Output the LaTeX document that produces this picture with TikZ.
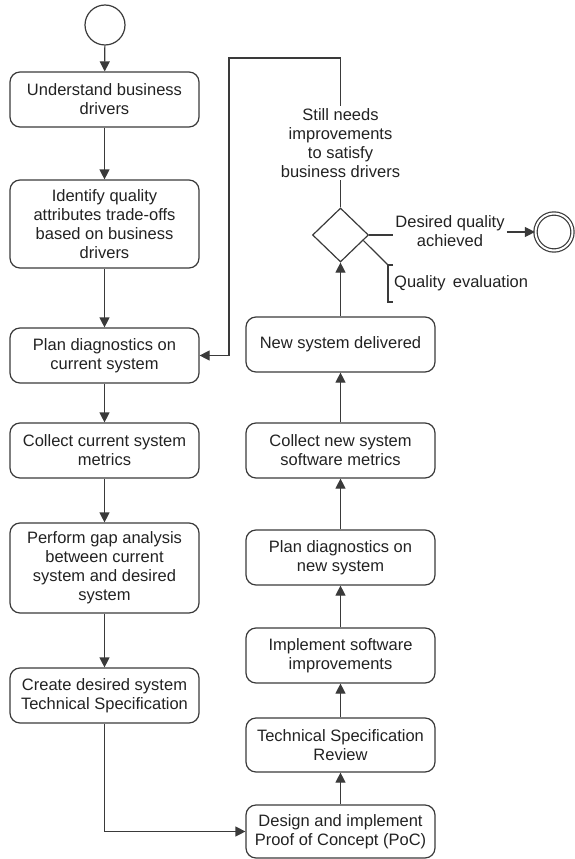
\documentclass[tikz,border=0pt]{standalone}
\usepackage{fontspec}
\setmainfont{Liberation Sans}
\usetikzlibrary{shapes.geometric,arrows.meta,calc}
\definecolor{ln}{HTML}{3A3A3A}
\definecolor{tx}{HTML}{222222}
\tikzset{
  stepbox/.style={draw=ln, line width=1.2pt, rounded corners=10pt, minimum width=189pt,
    inner sep=2pt, align=center, text=tx, font=\fontsize{16.5}{19}\selectfont},
  conn/.style={draw=ln, line width=1.2pt},
  arr/.style={conn, -{Triangle[length=10pt,width=10pt]}},
  lbl/.style={align=center, text=tx, inner sep=2pt, font=\fontsize{16.5}{19}\selectfont},
}
\begin{document}
\begin{tikzpicture}[x=1pt,y=-1pt]
\useasboundingbox (0,0) rectangle (574,859);
% start
\node[circle, draw=ln, line width=1.2pt, minimum size=40pt, inner sep=0] (start) at (105,25) {};
% left column
\node[stepbox, minimum height=55pt] (und) at (104.5,99.5) {Understand business\\drivers};
\node[stepbox, minimum height=88pt] (ide) at (104.5,224) {Identify quality\\attributes trade-offs\\based on business\\drivers};
\node[stepbox, minimum height=55pt] (pla) at (104.5,355.5) {Plan diagnostics on\\current system};
\node[stepbox, minimum height=55pt] (col) at (104.5,450.5) {Collect current system\\metrics};
\node[stepbox, minimum height=90pt] (per) at (104.5,568) {Perform gap analysis\\between current\\system and desired\\system};
\node[stepbox, minimum height=55pt] (cre) at (104.5,695.5) {Create desired system\\Technical Specification};
% right column
\node[stepbox, minimum height=55pt] (nsd) at (340.5,344.5) {New system delivered};
\node[stepbox, minimum height=55pt] (cnm) at (340.5,450.5) {Collect new system\\software metrics};
\node[stepbox, minimum height=55pt] (pnn) at (340.5,557.5) {Plan diagnostics on\\new system};
\node[stepbox, minimum height=55pt] (imp) at (340.5,655.5) {Implement software\\improvements};
\node[stepbox, minimum height=54pt] (tsr) at (340.5,745) {Technical Specification\\Review};
\node[stepbox, minimum height=53pt] (poc) at (340.5,831.5) {Design and implement\\Proof of Concept (PoC)};
% gateway
\node[diamond, draw=ln, line width=1.2pt, minimum width=56pt, minimum height=54pt, inner sep=0] (dia) at (340.5,235) {};
\node[circle, draw=ln, line width=1.2pt, double, double distance=2pt, minimum size=37pt, inner sep=0] (endc) at (554,232) {};
\node[lbl] (dqa) at (450,231) {Desired quality\\achieved};
\node[lbl, anchor=west] (qev) at (392,283) {Quality\, evaluation};
% loop coordinates
\coordinate (l1) at (340.5,58);
\coordinate (l2) at (229,58);
\coordinate (b1) at (388,265);
\coordinate (b2) at (388,302);
% connectors left
\draw[arr] (start) -- (und);
\draw[arr] (und) -- (ide);
\draw[arr] (ide) -- (pla);
\draw[arr] (pla) -- (col);
\draw[arr] (col) -- (per);
\draw[arr] (per) -- (cre);
\draw[arr] (cre.south) |- (poc.west);
% connectors right
\draw[arr] (poc) -- (tsr);
\draw[arr] (tsr) -- (imp);
\draw[arr] (imp) -- (pnn);
\draw[arr] (pnn) -- (cnm);
\draw[arr] (cnm) -- (nsd);
\draw[arr] (nsd) -- (dia.south);
% loop back
\draw[arr] (dia.north) -- (l1) -- (l2) |- (pla.east);
\node[lbl, fill=white] (still) at (340.5,143) {Still needs\\improvements\\to satisfy\\business drivers};
% end
\draw[conn] (dia.east) -- (dia.east -| dqa.west);
\draw[arr] (endc.west -| dqa.east) -- (endc.west);
% annotation
\draw[conn] ($(dia.east)!0.2!(dia.south)$) -- (b1);
\draw[conn] ($(b1)+(5,0)$) -- (b1) -- (b2) -- ($(b2)+(5,0)$);
\end{tikzpicture}
\end{document}
